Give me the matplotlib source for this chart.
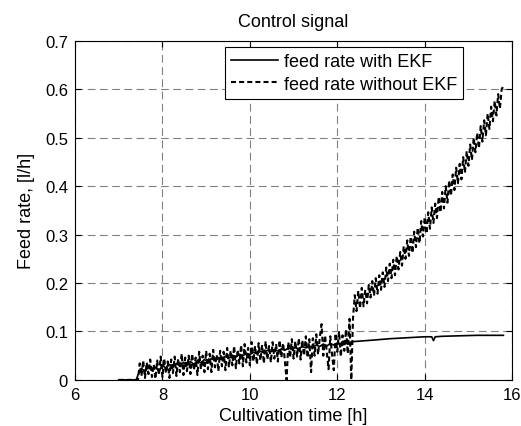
import numpy as np
import matplotlib
matplotlib.use('Agg')
import matplotlib.pyplot as plt

plt.rcParams['font.family'] = ['Liberation Sans', 'DejaVu Sans']
plt.rcParams['font.size'] = 12

# feed rate without EKF, sampled every 0.04 h
t_start_low = 7.44
feed_no_ekf_low = [
    0.000, 0.034, 0.008, 0.040, 0.004, 0.036, 0.012, 0.042, 0.006, 0.032,
    0.002, 0.040, 0.010, 0.048, 0.006, 0.044, 0.014, 0.038, 0.004, 0.042,
    0.014, 0.048, 0.008, 0.044, 0.016, 0.054, 0.010, 0.046, 0.018, 0.050,
    0.012, 0.054, 0.020, 0.046, 0.010, 0.058, 0.022, 0.050, 0.016, 0.060,
    0.022, 0.054, 0.016, 0.062, 0.026, 0.052, 0.018, 0.060, 0.028, 0.058,
    0.020, 0.066, 0.026, 0.060, 0.030, 0.070, 0.024, 0.062, 0.034, 0.072,
    0.028, 0.074, 0.036, 0.066, 0.030, 0.078, 0.038, 0.070, 0.032, 0.076,
    0.040, 0.072, 0.034, 0.080, 0.042, 0.070, 0.036, 0.078, 0.044, 0.074,
    0.038, 0.082, 0.046, 0.076, 0.040, 0.000, 0.078, 0.046, 0.084, 0.044,
    0.080, 0.048, 0.086, 0.042, 0.082, 0.050, 0.090, 0.046, 0.084, 0.016,
    0.086, 0.050, 0.094, 0.052, 0.088, 0.115, 0.050, 0.092, 0.056, 0.022,
    0.090, 0.052, 0.020, 0.096, 0.058, 0.100, 0.048, 0.092, 0.060, 0.104,
    0.054, 0.126, 0.000,
]
t_start_high = 12.36
feed_no_ekf_high = [
    0.128, 0.175, 0.142, 0.184, 0.148, 0.190, 0.152, 0.186, 0.158, 0.196,
    0.170, 0.204, 0.174, 0.210, 0.178, 0.216, 0.186, 0.222, 0.192, 0.232,
    0.204, 0.240, 0.210, 0.248, 0.216, 0.256, 0.228, 0.264, 0.236, 0.276,
    0.250, 0.288, 0.256, 0.296, 0.262, 0.306, 0.274, 0.314, 0.282, 0.328,
    0.296, 0.336, 0.302, 0.346, 0.312, 0.356, 0.324, 0.364, 0.334, 0.378,
    0.346, 0.388, 0.354, 0.400, 0.366, 0.412, 0.380, 0.424, 0.392, 0.438,
    0.406, 0.446, 0.414, 0.460, 0.428, 0.472, 0.442, 0.486, 0.454, 0.500,
    0.470, 0.510, 0.478, 0.524, 0.492, 0.536, 0.505, 0.550, 0.518, 0.564,
    0.534, 0.576, 0.546, 0.590, 0.560, 0.600, 0.607,
]

# feed rate with EKF, every 0.08 h before the switch, then sparse points
feed_ekf_low = [
    0.010, 0.024, 0.016, 0.028, 0.020, 0.026, 0.018, 0.030, 0.024, 0.032,
    0.026, 0.034, 0.028, 0.036, 0.030, 0.038, 0.032, 0.040, 0.035, 0.042,
    0.037, 0.044, 0.040, 0.046, 0.042, 0.049, 0.045, 0.051, 0.047, 0.053,
    0.050, 0.055, 0.052, 0.057, 0.054, 0.059, 0.056, 0.061, 0.058, 0.062,
    0.060, 0.064, 0.061, 0.066, 0.063, 0.067, 0.064, 0.069, 0.066, 0.070,
    0.067, 0.072, 0.069, 0.074, 0.070, 0.075, 0.072, 0.076, 0.073, 0.077,
    0.074, 0.078,
]
t_ekf_high = [12.36, 12.8, 13.2, 13.6, 14.0, 14.16, 14.2, 14.24, 14.4, 14.8, 15.2, 15.6, 15.8]
feed_ekf_high = [0.079, 0.082, 0.085, 0.087, 0.089, 0.089, 0.081, 0.089, 0.090, 0.091, 0.092, 0.092, 0.092]

t_idle = [7.0, 7.40]
feed_idle = [0.0, 0.0]

t_no_low = t_start_low + 0.04 * np.arange(len(feed_no_ekf_low))
t_no_high = t_start_high + 0.04 * np.arange(len(feed_no_ekf_high))
t_no = np.concatenate([t_idle, t_no_low, t_no_high])
y_no = np.concatenate([feed_idle, feed_no_ekf_low, feed_no_ekf_high])

t_ekf_low = t_start_low + 0.08 * np.arange(len(feed_ekf_low))
t_ekf = np.concatenate([t_idle, t_ekf_low, t_ekf_high])
y_ekf = np.concatenate([feed_idle, feed_ekf_low, feed_ekf_high])

fig = plt.figure(figsize=(5.21, 4.27), dpi=100)
ax = fig.add_axes([0.144, 0.108, 0.839, 0.794])

ax.plot(t_ekf, y_ekf, color='black', linewidth=1.2, label='feed rate with EKF')
ax.plot(t_no, y_no, color='black', linewidth=1.5, linestyle='--', dashes=(2.4, 1.5),
        label='feed rate without EKF')

ax.set_xlim(6, 16)
ax.set_ylim(0, 0.7)
ax.set_xticks([6, 8, 10, 12, 14, 16])
ax.set_yticks([0, 0.1, 0.2, 0.3, 0.4, 0.5, 0.6, 0.7])
ax.set_yticklabels(['0', '0.1', '0.2', '0.3', '0.4', '0.5', '0.6', '0.7'])
ax.grid(True, color='#808080', linestyle=(0, (7, 4)), linewidth=0.8)
ax.tick_params(direction='in', top=True, right=True, length=4, width=0.8,
               labelsize=12, pad=5)
for s in ax.spines.values():
    s.set_linewidth(0.8)

ax.set_title('Control signal', fontsize=13, pad=11)
ax.set_xlabel('Cultivation time [h]', fontsize=13, labelpad=4)
ax.set_ylabel('Feed rate, [l/h]', fontsize=13, labelpad=7)

leg = ax.legend(loc='upper right', bbox_to_anchor=(0.888, 0.982), fancybox=False,
                framealpha=1, edgecolor='black', handlelength=2.6, borderpad=0.35,
                labelspacing=0.3, handletextpad=0.3, borderaxespad=0, fontsize=13)
leg.get_frame().set_linewidth(0.8)

fig.savefig('out.png', dpi=100)
